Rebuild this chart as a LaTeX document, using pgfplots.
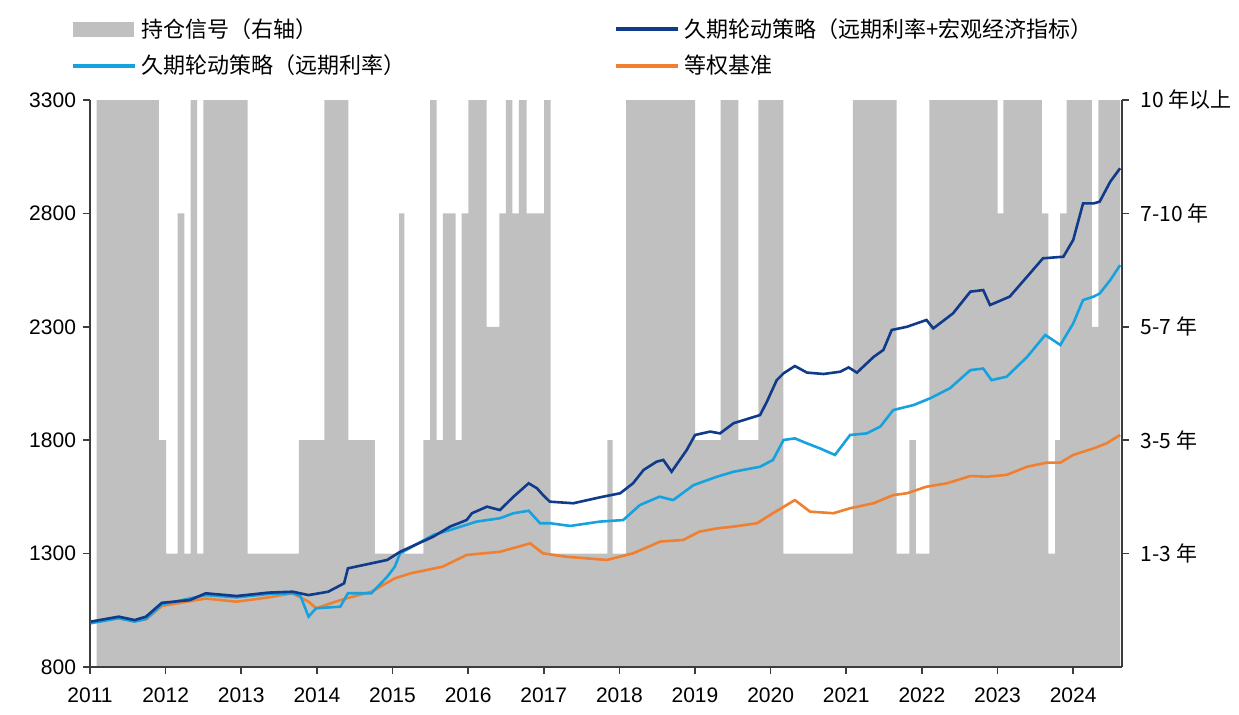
\documentclass[border=0pt]{standalone}
\usepackage{pgfplots}
\pgfplotsset{compat=1.18}
\usepackage{fontspec}
\setmainfont{Liberation Sans}
\newfontfamily\cjk{Noto Sans CJK SC}
\definecolor{sgray}{RGB}{192,192,192}
\definecolor{dblue}{RGB}{16,58,138}
\definecolor{lblue}{RGB}{22,162,222}
\definecolor{orng}{RGB}{240,128,48}
\definecolor{axgray}{RGB}{60,60,60}

\pgfplotstableread{
x s
2011.089 5
2011.912 2
2012.005 1
2012.160 4
2012.247 1
2012.331 5
2012.415 1
2012.498 5
2013.085 1
2013.763 2
2014.098 5
2014.415 2
2014.768 1
2015.086 4
2015.156 1
2015.407 2
2015.496 5
2015.584 2
2015.664 4
2015.835 2
2015.915 4
2016.002 5
2016.245 3
2016.412 4
2016.500 5
2016.584 4
2016.672 5
2016.774 4
2017.003 5
2017.091 1
2017.840 2
2017.911 1
2018.087 5
2019.000 2
2019.339 5
2019.572 2
2019.836 5
2020.167 1
2021.085 5
2021.666 1
2021.833 2
2021.918 1
2022.097 5
2023.002 4
2023.076 5
2023.584 4
2023.671 1
2023.760 2
2023.826 4
2023.914 5
2024.245 3
2024.332 5
2024.619 5
}\signal

\pgfplotstableread{
x y
2011.01 1000
2011.38 1022
2011.59 1007
2011.74 1022
2011.95 1083
2012.32 1095
2012.53 1125
2012.94 1113
2013.36 1128
2013.68 1132
2013.89 1117
2014.15 1132
2014.36 1169
2014.41 1235
2014.72 1257
2014.93 1272
2015.10 1308
2015.54 1375
2015.76 1419
2015.98 1448
2016.05 1478
2016.25 1507
2016.42 1492
2016.60 1551
2016.80 1610
2016.91 1588
2016.99 1558
2017.08 1529
2017.39 1522
2017.74 1548
2018.01 1566
2018.18 1610
2018.32 1669
2018.49 1705
2018.58 1713
2018.69 1661
2018.89 1757
2019.00 1823
2019.20 1838
2019.33 1830
2019.51 1875
2019.86 1911
2019.95 1970
2020.08 2065
2020.17 2095
2020.32 2127
2020.48 2098
2020.70 2092
2020.92 2102
2021.03 2121
2021.14 2098
2021.36 2167
2021.49 2198
2021.60 2286
2021.80 2300
2022.06 2330
2022.15 2293
2022.41 2359
2022.64 2455
2022.81 2462
2022.90 2396
2023.16 2433
2023.39 2521
2023.60 2602
2023.87 2609
2024.00 2683
2024.13 2844
2024.27 2844
2024.35 2852
2024.49 2940
2024.62 2999
}\dark

\pgfplotstableread{
x y
2011.01 993
2011.38 1015
2011.59 1000
2011.74 1012
2011.95 1076
2012.53 1117
2012.94 1107
2013.36 1122
2013.68 1125
2013.78 1115
2013.89 1022
2013.99 1059
2014.31 1066
2014.41 1125
2014.72 1125
2014.93 1198
2015.03 1242
2015.10 1301
2015.54 1382
2015.76 1404
2016.11 1441
2016.42 1456
2016.60 1478
2016.80 1489
2016.95 1434
2017.08 1434
2017.35 1422
2017.74 1441
2018.05 1448
2018.27 1514
2018.53 1551
2018.71 1536
2018.98 1602
2019.29 1639
2019.51 1661
2019.86 1683
2020.03 1713
2020.17 1801
2020.32 1808
2020.48 1786
2020.65 1764
2020.85 1735
2021.05 1823
2021.27 1830
2021.45 1860
2021.62 1933
2021.89 1955
2022.11 1985
2022.37 2029
2022.64 2109
2022.81 2116
2022.92 2065
2023.12 2080
2023.39 2167
2023.63 2264
2023.83 2220
2024.00 2315
2024.13 2418
2024.27 2433
2024.35 2447
2024.49 2506
2024.62 2572
}\light

\pgfplotstableread{
x y
2011.01 1000
2011.38 1015
2011.59 1004
2011.74 1010
2011.95 1069
2012.53 1102
2012.94 1088
2013.36 1107
2013.68 1125
2013.89 1088
2013.99 1059
2014.31 1095
2014.72 1132
2015.03 1191
2015.24 1213
2015.66 1242
2015.98 1294
2016.42 1308
2016.82 1345
2016.99 1301
2017.30 1286
2017.57 1279
2017.83 1272
2018.18 1301
2018.54 1353
2018.84 1360
2019.06 1397
2019.29 1411
2019.51 1419
2019.82 1434
2020.03 1478
2020.32 1536
2020.52 1485
2020.83 1478
2021.05 1500
2021.36 1522
2021.62 1558
2021.80 1566
2022.06 1595
2022.33 1610
2022.64 1642
2022.86 1639
2023.12 1647
2023.39 1683
2023.65 1701
2023.83 1701
2024.00 1735
2024.27 1764
2024.44 1786
2024.62 1823
}\bench

\begin{document}
\begin{tikzpicture}
\useasboundingbox (-45pt,-23.5pt) rectangle (574.5pt,333.5pt);
\pgfplotsset{common/.style={
  scale only axis, width=515.85pt, height=283.5pt,
  xmin=2011, xmax=2024.641, at={(0pt,0pt)}, anchor=south west,
  tick align=outside, major tick length=3.5pt,
  every tick/.style={axgray, line width=0.8pt},
  axis line style={axgray, line width=0.8pt},
  tick label style={font=\fontsize{10.5}{12}\selectfont},
  /pgf/number format/assume math mode=true,
  /pgf/number format/1000 sep={}}}
\begin{axis}[common, ymin=0, ymax=5, axis y line*=right, axis x line=none,
  xtick=\empty, ytick={1,2,3,4,5},
  yticklabels={1-3 年, 3-5 年, 5-7 年, 7-10 年, 10 年以上},
  yticklabel style={font=\cjk\fontsize{10.5}{12}\selectfont, anchor=west, xshift=2.5pt}]
\addplot[const plot, fill=sgray, draw=none] table[x=x, y=s] {\signal} \closedcycle;
\end{axis}
\begin{axis}[common, ymin=800, ymax=3300, axis y line*=left, axis x line*=bottom,
  xtick={2011,2012,...,2024}, ytick={800,1300,1800,2300,2800,3300},
  xticklabel style={yshift=-3.5pt},
  legend columns=2, legend cell align=left,
  legend style={at={(axis description cs:-0.0184,1.152)}, anchor=north west,
    draw=none, fill=none, inner sep=0pt, row sep=3.5pt,
    font=\cjk\fontsize{11}{12}\selectfont,
    /tikz/every even column/.append style={column sep=102.5pt}}]
\addlegendimage{legend image code/.code={\fill[sgray] (0pt,-3.5pt) rectangle (30pt,3.5pt);}}
\addlegendentry{持仓信号（右轴）}
\addlegendimage{legend image code/.code={\draw[dblue, line width=2pt] (0pt,0pt) -- (31pt,0pt);}}
\addlegendentry{久期轮动策略（远期利率+宏观经济指标）}
\addlegendimage{legend image code/.code={\draw[lblue, line width=2pt] (0pt,0pt) -- (31pt,0pt);}}
\addlegendentry{久期轮动策略（远期利率）}
\addlegendimage{legend image code/.code={\draw[orng, line width=2pt] (0pt,0pt) -- (31pt,0pt);}}
\addlegendentry{等权基准}
\addplot[forget plot, orng, line width=1.3pt] table[x=x,y=y] {\bench};
\addplot[forget plot, lblue, line width=1.3pt] table[x=x,y=y] {\light};
\addplot[forget plot, dblue, line width=1.3pt] table[x=x,y=y] {\dark};
\end{axis}
\end{tikzpicture}
\end{document}
